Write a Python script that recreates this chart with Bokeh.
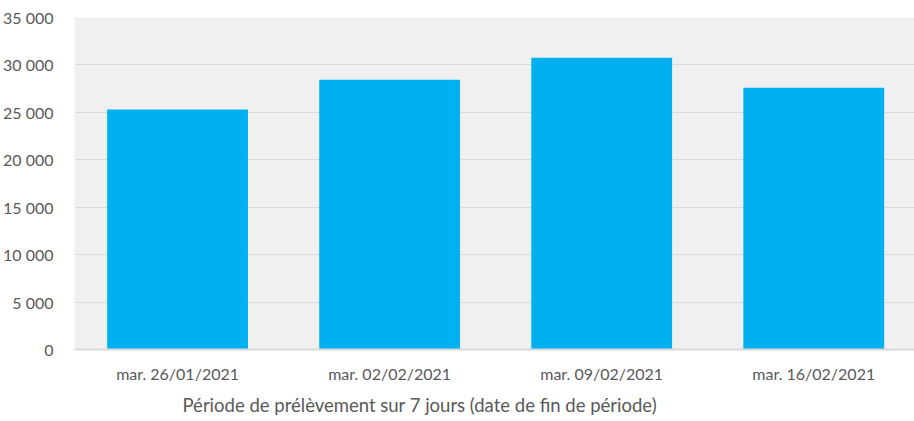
from bokeh.plotting import figure
from bokeh.models import Range1d, FixedTicker, Title, ColumnDataSource
from bokeh.embed import file_html
from bokeh.resources import INLINE

# Data
categories = ["mar. 26/01/2021", "mar. 02/02/2021", "mar. 09/02/2021", "mar. 16/02/2021"]
values = [25300, 28450, 30750, 27600]
y_ticks = [0, 5000, 10000, 15000, 20000, 25000, 30000, 35000]
y_tick_labels = ["0", "5 000", "10 000", "15 000", "20 000", "25 000", "30 000", "35 000"]
x_title = "Période de prélèvement sur 7 jours (date de fin de période)"

FONT = "Lato"
TXT = "#595959"

x_pos = [i + 0.5 for i in range(len(categories))]
src = ColumnDataSource(dict(x=x_pos, top=values))

p = figure(width=914, height=421, output_backend="svg", toolbar_location=None,
           x_range=Range1d(0.014, 3.975), y_range=Range1d(0, 35000),
           min_border_left=73, min_border_right=0, min_border_top=17, min_border_bottom=72)
p.outline_line_color = None
p.background_fill_color = "#f0f0f0"
p.border_fill_color = "white"

p.vbar(x="x", top="top", width=0.664, bottom=0, source=src,
       fill_color="#00b0f0", line_color=None)

# y axis
p.yaxis.ticker = FixedTicker(ticks=y_ticks)
p.yaxis.major_label_overrides = {t: l for t, l in zip(y_ticks, y_tick_labels)}
p.yaxis.axis_line_color = None
p.yaxis.major_tick_line_color = None
p.yaxis.minor_tick_line_color = None
p.yaxis.major_label_standoff = 15
p.yaxis.major_label_text_font = FONT
p.yaxis.major_label_text_font_size = "16px"
p.yaxis.major_label_text_color = TXT

# x axis
p.xaxis.ticker = FixedTicker(ticks=x_pos)
p.xaxis.major_label_overrides = {x: c for x, c in zip(x_pos, categories)}
p.xaxis.axis_line_color = "#d9d9d9"
p.xaxis.axis_line_width = 2
p.xaxis.major_tick_line_color = None
p.xaxis.minor_tick_line_color = None
p.xaxis.major_label_standoff = 8
p.xaxis.major_label_text_font = FONT
p.xaxis.major_label_text_font_size = "16px"
p.xaxis.major_label_text_color = TXT

p.xgrid.grid_line_color = None
p.ygrid.grid_line_color = "#d9d9d9"
p.ygrid.grid_line_width = 1

t = Title(text=x_title, align="left", offset=108, text_font=FONT,
          text_font_size="18.5px", text_font_style="normal", text_color=TXT,
          standoff=12)
p.add_layout(t, "below")

open("out.html", "w").write(file_html(p, INLINE))
